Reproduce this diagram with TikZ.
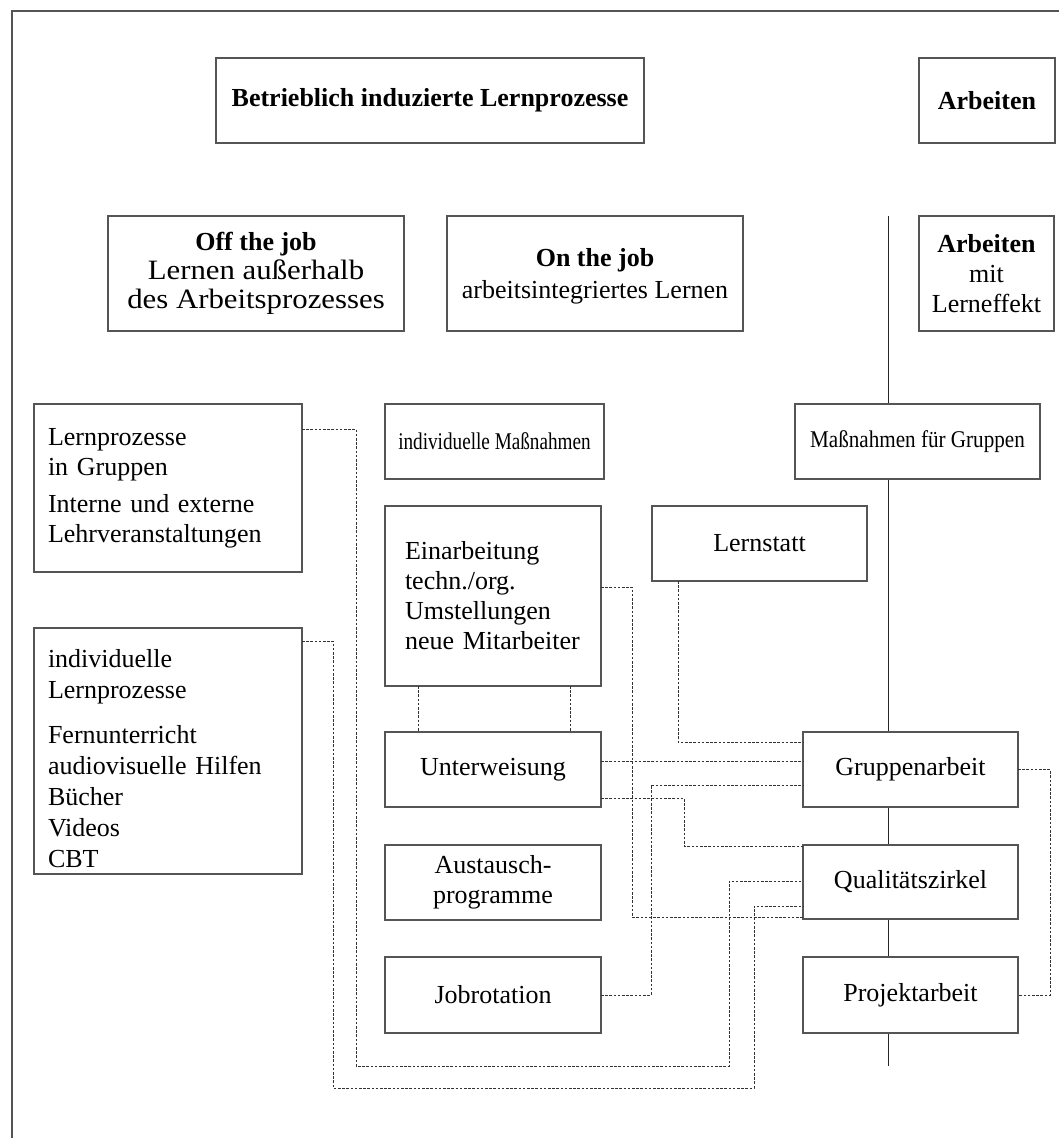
\documentclass[tikz,border=0pt]{standalone}
\usepackage{fontspec}
\setmainfont{Liberation Serif}
\usetikzlibrary{calc}
\definecolor{boxgray}{HTML}{555555}
\definecolor{dotgray}{HTML}{333333}
\newcommand\widerline[1]{\scalebox{1.1}[1]{\fontsize{28}{28}\selectfont #1}}
\begin{document}
\begin{tikzpicture}[x=1pt,y=-1pt,
  font=\fontsize{26}{30}\selectfont,
  box/.style={draw=boxgray, line width=1.3pt, fill=white, inner sep=0pt, outer sep=0pt, align=center},
  lbox/.style={box, align=left},
  dotc/.style={draw=dotgray, line width=1pt, dash pattern=on 2.6pt off 1.6pt},
  vline/.style={draw=black!85, line width=1pt},
  frame/.style={draw=boxgray, line width=1.5pt}]
\useasboundingbox (0,0) rectangle (1059,1138);
% frame
\coordinate (fbl) at (12,1138);
\coordinate (ftl) at (12,11);
\coordinate (ftr) at (1059,11);
\draw[frame] (fbl) -- (ftl) -- (ftr);
% vertical line
\coordinate (vtop) at (888,216);
\coordinate (vbot) at (888,1066);
\draw[vline] (vtop) -- (vbot);
% boxes
\node[box, minimum width=428pt, minimum height=85pt] (betr) at (430,100.5) {\textbf{Betrieblich induzierte Lernprozesse}};
\node[box, minimum width=136pt, minimum height=85pt] (arb) at (987,100.5) {\textbf{Arbeiten}};
\node[box, minimum width=296pt, minimum height=115pt] (off) at (256,273.5) {\textbf{Off the job}\\[-1pt]\widerline{Lernen außerhalb}\\[-1pt]\widerline{des Arbeitsprozesses}};
\node[box, minimum width=296pt, minimum height=115pt] (on) at (595,273.5) {\rule{0pt}{24pt}\textbf{On the job}\\[2pt]arbeitsintegriertes Lernen};
\node[box, minimum width=135pt, minimum height=115pt] (arbL) at (986.5,273.5) {\textbf{Arbeiten}\\mit\\Lerneffekt};
\node[lbox, minimum width=268pt, minimum height=168pt, text width=240pt] (lpg) at (168,488) {Lernprozesse\\in Gruppen\\[7pt]Interne und externe\\Lehrveranstaltungen};
\node[box, minimum width=219pt, minimum height=75pt] (indM) at (494.5,441.5) {\scalebox{0.8}[1]{\fontsize{24}{28}\selectfont individuelle Maßnahmen}};
\node[box, minimum width=245pt, minimum height=75pt] (grM) at (917.5,441.5) {\scalebox{0.88}[1]{\fontsize{24}{28}\selectfont Maßnahmen für Gruppen}};
\node[lbox, minimum width=216pt, minimum height=180pt, text width=176pt] (einarb) at (493,596) {Einarbeitung\\techn./org.\\Umstellungen\\neue Mitarbeiter};
\node[box, minimum width=215pt, minimum height=75pt] (lernstatt) at (759.5,543.5) {Lernstatt};
\node[lbox, minimum width=268pt, minimum height=246pt, text width=240pt, font=\fontsize{26}{31}\selectfont] (ilp) at (168,751) {\rule{0pt}{34pt}individuelle\\Lernprozesse\\[14pt]Fernunterricht\\audiovisuelle Hilfen\\Bücher\\Videos\\CBT};
\node[box, minimum width=216pt, minimum height=75pt] (unterw) at (493,769.5) {Unterweisung};
\node[box, minimum width=216pt, minimum height=75pt] (austausch) at (493,882.5) {Austausch-\\programme};
\node[box, minimum width=216pt, minimum height=76pt] (jobrot) at (493,995) {Jobrotation};
\node[box, minimum width=215pt, minimum height=75pt] (grpA) at (910.5,769.5) {Gruppenarbeit};
\node[box, minimum width=215pt, minimum height=74pt] (qz) at (910.5,882) {Qualitätszirkel};
\node[box, minimum width=215pt, minimum height=76pt] (proj) at (910.5,995) {Projektarbeit};
% dotted connectors
\draw[dotc] ([yshift=-25pt]lpg.north east) -- (356,429) -- (356,1066) -- (729,1066) |- ([yshift=38pt]qz.south west);
\draw[dotc] ([yshift=-13pt]ilp.north east) -- (333,641) -- (333,1088) -- (754,1088) |- ([yshift=13pt]qz.south west);
\draw[dotc] ([yshift=-81pt]einarb.north east) -- (632,587) |- ([yshift=2pt]qz.south west);
\draw[dotc] ([xshift=-81.5pt]lernstatt.south) |- ([yshift=-10pt]grpA.north west);
\draw[dotc] ([yshift=-29pt]unterw.north east) -- ([yshift=-29pt]grpA.north west);
\draw[dotc] ([yshift=-66pt]unterw.north east) -- (684,798) |- ([yshift=-1pt]qz.north west);
\draw[dotc] (jobrot.east) -- (651,995) |- ([yshift=-53pt]grpA.north west);
\draw[dotc] (grpA.east) -- (1050,769.5) |- (proj.east);
\draw[dotc] ([xshift=33pt]einarb.south west) -- ([xshift=33pt]unterw.north west);
\draw[dotc] ([xshift=-31pt]einarb.south east) -- ([xshift=-31pt]unterw.north east);
\end{tikzpicture}
\end{document}
